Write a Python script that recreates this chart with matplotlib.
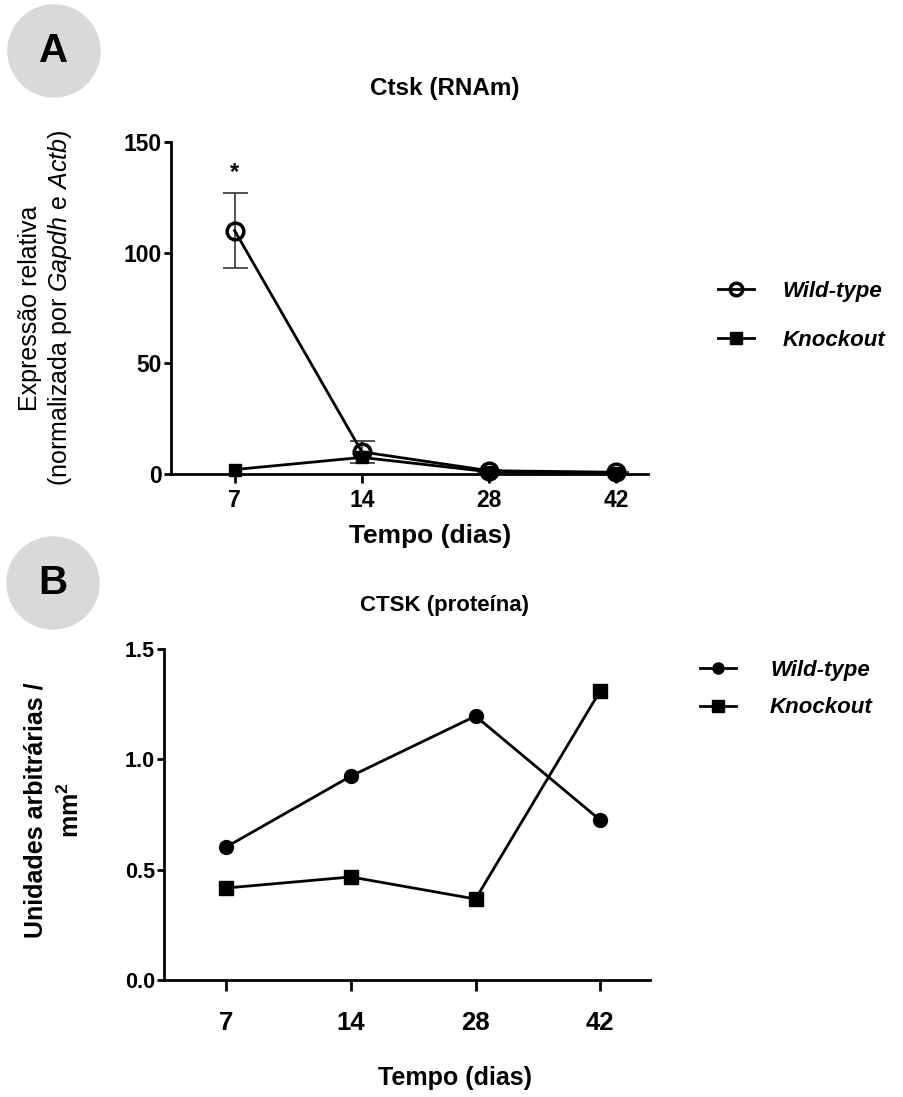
import numpy as np
import matplotlib
matplotlib.use("Agg")
import matplotlib.pyplot as plt
from matplotlib.patches import Ellipse

plt.rcParams['font.family'] = ['Liberation Sans', 'DejaVu Sans']
plt.rcParams['mathtext.fontset'] = 'custom'
plt.rcParams['mathtext.it'] = 'Liberation Sans:italic'
plt.rcParams['mathtext.rm'] = 'Liberation Sans'
plt.rcParams['mathtext.bf'] = 'Liberation Sans:bold'

dias = ['7', '14', '28', '42']

# painel A - RNAm
wt_rna = [110, 10, 1.5, 0.8]
wt_rna_err = [17, 5, 0.5, 0.3]
ko_rna = [2, 7.5, 1.0, 0.5]

# painel B - proteina
wt_prot = [0.603, 0.924, 1.196, 0.725]
ko_prot = [0.417, 0.467, 0.367, 1.31]

W, H = 904, 1097
fig = plt.figure(figsize=(W / 100, H / 100), dpi=100)
x = np.arange(len(dias))


def badge(letter, cx, cy):
    fig.patches.append(Ellipse((cx / W, 1 - cy / H), 92 / W, 92 / H,
                               transform=fig.transFigure, color='#d9d9d9'))
    fig.text(cx / W, 1 - cy / H, letter, ha='center', va='center',
             fontsize=29, fontweight='bold')


def style_axes(ax, size):
    for s in ['top', 'right']:
        ax.spines[s].set_visible(False)
    for s in ['left', 'bottom']:
        ax.spines[s].set_linewidth(2)
    ax.tick_params(width=2, length=6.5, labelsize=size, pad=4)
    ax.tick_params(axis='y', length=5, pad=1.5)
    for lab in ax.get_xticklabels() + ax.get_yticklabels():
        lab.set_fontweight('bold')


leg_font = {'size': 16, 'weight': 'bold', 'style': 'italic'}

# ---------- A ----------
badge('A', 54, 51)
axA = fig.add_axes([171 / W, 1 - 474 / H, (648 - 171) / W, (474 - 142) / H])
axA.errorbar(x, wt_rna, yerr=wt_rna_err, fmt='none', ecolor='#333333',
             capsize=9, elinewidth=1.2, capthick=1.2, clip_on=False, zorder=2)
axA.plot(x, wt_rna, color='black', lw=2, marker='o', ms=12, mfc='none',
         mec='black', mew=2.5, clip_on=False, zorder=3, label='Wild-type')
axA.plot(x, ko_rna, color='black', lw=2, marker='s', ms=8, clip_on=False,
         zorder=4, label='Knockout')
axA.set_ylim(0, 150)
axA.set_yticks([0, 50, 100, 150])
axA.set_xlim(-0.5, 3.25)
axA.set_xticks(x)
axA.set_xticklabels(dias)
style_axes(axA, 16.5)
axA.text(0, 136, '*', ha='center', va='center', fontsize=17, fontweight='bold')
fig.text(445 / W, 1 - 88 / H, 'Ctsk (RNAm)', ha='center', va='center',
         fontsize=17.5, fontweight='bold')
fig.text(430 / W, 1 - 536 / H, 'Tempo (dias)', ha='center', va='center',
         fontsize=19, fontweight='bold')
fig.text(46 / W, 1 - 308 / H,
         'Expressão relativa\n(normalizada por $\\mathit{Gapdh}$ e $\\mathit{Actb}$)',
         ha='center', va='center', rotation=90, fontsize=18,
         linespacing=1.2)
legA = axA.legend(loc='center left', bbox_to_anchor=(718 / W, 1 - 316 / H),
                  bbox_transform=fig.transFigure, frameon=False,
                  handlelength=1.6, handletextpad=1.3, labelspacing=1.25,
                  borderpad=0, borderaxespad=0, prop=leg_font)
for h in legA.legend_handles:
    h.set_markersize(9)

# ---------- B ----------
badge('B', 53, 583)
axB = fig.add_axes([164 / W, 1 - 980 / H, (650 - 164) / W, (980 - 649) / H])
axB.plot(x, wt_prot, color='black', lw=2, marker='o', ms=10, clip_on=False,
         label='Wild-type')
axB.plot(x, ko_prot, color='black', lw=2, marker='s', ms=10, clip_on=False,
         label='Knockout')
axB.set_ylim(0, 1.5)
axB.set_yticks([0, 0.5, 1.0, 1.5])
axB.set_yticklabels(['0.0', '0.5', '1.0', '1.5'])
axB.set_xlim(-0.5, 3.4)
axB.set_xticks(x)
axB.set_xticklabels(dias)
style_axes(axB, 15.5)
axB.tick_params(axis='x', length=8, pad=14, labelsize=18.5)
fig.text(445 / W, 1 - 605 / H, 'CTSK (proteína)', ha='center', va='center',
         fontsize=16, fontweight='bold')
fig.text(455 / W, 1 - 1078 / H, 'Tempo (dias)', ha='center', va='center',
         fontsize=18, fontweight='bold')
fig.text(54 / W, 1 - 810 / H, 'Unidades arbitrárias /\nmm$^\\mathbf{2}$',
         ha='center', va='center', rotation=90, fontsize=18,
         fontweight='bold', linespacing=1.45)
legB = axB.legend(loc='center left', bbox_to_anchor=(700 / W, 1 - 689 / H),
                  bbox_transform=fig.transFigure, frameon=False,
                  handlelength=1.6, handletextpad=1.55, labelspacing=0.75,
                  borderpad=0, borderaxespad=0, prop=leg_font)
for h in legB.legend_handles:
    h.set_markersize(8)

fig.savefig('out.png', dpi=100, facecolor='white')
